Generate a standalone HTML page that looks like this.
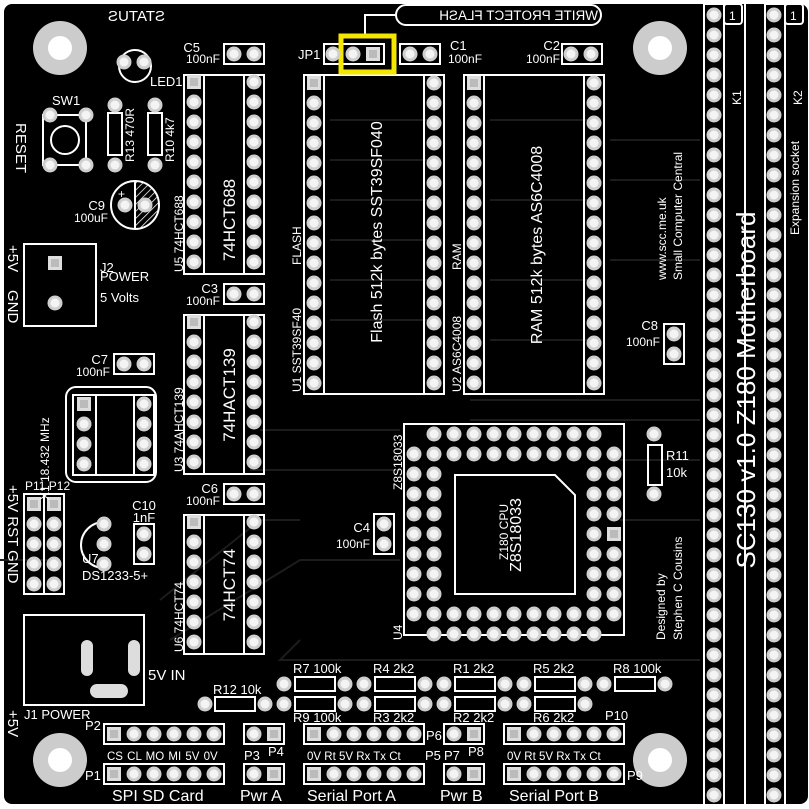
<!DOCTYPE html>
<html><head><meta charset="utf-8"><style>
html,body{margin:0;padding:0;background:#fff;}
svg{display:block;}
text{font-family:"Liberation Sans","DejaVu Sans",sans-serif;fill:#fff;}
</style></head><body>
<svg id="s" width="809" height="809" viewBox="0 0 809 809" xmlns="http://www.w3.org/2000/svg">
<defs><pattern id="h" width="5" height="5" patternUnits="userSpaceOnUse" patternTransform="rotate(45)"><line x1="0" y1="0" x2="0" y2="5" stroke="#fff" stroke-width="1.5"/></pattern></defs>
<rect x="4" y="4" width="804" height="800" rx="8" fill="#000"/>
<g stroke="#1c1c1c" stroke-width="2" fill="none">
<path d="M0 560 H60 M160 600 L260 520 H300 M260 430 H400 M250 470 H400 M170 640 L300 560 H400 M470 400 H700 M470 420 H700 M620 460 H700 M620 520 H700 M300 640 L280 660 H700 M330 120 H430 M330 160 H430 M330 200 H430 M330 240 H430 M330 280 H430 M330 320 H430 M490 120 H590 M490 200 H590 M490 280 H590 M490 340 H590 M610 140 H700 M610 180 H700 M610 260 H700"/>
</g>
<path d="M135 181 A24 24 0 0 1 135 229 Z" fill="url(#h)"/>
<g fill="none" stroke="#fff" stroke-width="2">
<rect x="184" y="75" width="80" height="199"/><line x1="204" y1="75" x2="204" y2="274"/><line x1="244" y1="75" x2="244" y2="274"/>
<rect x="184" y="315" width="80" height="159"/><line x1="204" y1="315" x2="204" y2="474"/><line x1="244" y1="315" x2="244" y2="474"/>
<rect x="184" y="515" width="80" height="139"/><line x1="204" y1="515" x2="204" y2="654"/><line x1="244" y1="515" x2="244" y2="654"/>
<rect x="304" y="75" width="140" height="319"/><line x1="324" y1="75" x2="324" y2="394"/><line x1="424" y1="75" x2="424" y2="394"/>
<rect x="464" y="75" width="140" height="319"/><line x1="484" y1="75" x2="484" y2="394"/><line x1="584" y1="75" x2="584" y2="394"/>
<rect x="404" y="424" width="220" height="211"/>
<path d="M455 475 H555 L575 495 V594 H455 Z"/>
<rect x="66" y="387" width="90" height="95" rx="10"/>
<rect x="73" y="395" width="81" height="80"/><line x1="96" y1="395" x2="96" y2="475"/><line x1="134" y1="395" x2="134" y2="475"/>
<rect x="704" y="4" width="20" height="802"/><rect x="724" y="4" width="18" height="20" rx="3"/>
<rect x="765" y="4" width="20" height="802"/><rect x="785" y="4" width="18" height="20" rx="3"/>
<line x1="745" y1="4" x2="745" y2="806"/>
<rect x="224" y="44" width="40" height="20"/><rect x="224" y="284" width="40" height="20"/><rect x="224" y="484" width="40" height="20"/>
<rect x="114" y="354" width="40" height="20"/><rect x="400" y="44" width="40" height="20"/><rect x="562" y="44" width="40" height="20"/>
<rect x="324" y="44" width="60" height="20"/>
<rect x="664" y="324" width="20" height="40"/><rect x="374" y="514" width="20" height="40"/><rect x="134" y="524" width="20" height="40"/>
<rect x="24" y="494" width="40" height="100"/><line x1="44" y1="494" x2="44" y2="594"/>
<rect x="24" y="244" width="72" height="82"/>
<rect x="24" y="615" width="120" height="90"/>
<rect x="43" y="115" width="43" height="50"/><circle cx="65" cy="140" r="14"/>
<rect x="108" y="113" width="14" height="42"/><rect x="148" y="113" width="14" height="42"/>
<circle cx="135" cy="205" r="24"/><line x1="135" y1="181" x2="135" y2="229"/>
<circle cx="135" cy="66" r="16"/>
<path d="M104 522 A22 22 0 1 0 104 568"/>
<rect x="648" y="445" width="14" height="40"/>
<rect x="295" y="677" width="40" height="14"/><rect x="375" y="677" width="40" height="14"/><rect x="455" y="677" width="40" height="14"/><rect x="535" y="677" width="40" height="14"/><rect x="615" y="677" width="40" height="14"/>
<rect x="295" y="697" width="40" height="14"/><rect x="375" y="697" width="40" height="14"/><rect x="455" y="697" width="40" height="14"/><rect x="535" y="697" width="40" height="14"/><rect x="215" y="697" width="40" height="14"/>
<rect x="104" y="724" width="120" height="20"/><rect x="104" y="764" width="120" height="20"/>
<rect x="244" y="724" width="40" height="20"/><rect x="244" y="764" width="40" height="20"/>
<rect x="304" y="724" width="120" height="20"/><rect x="304" y="764" width="120" height="20"/>
<rect x="444" y="724" width="40" height="20"/><rect x="444" y="764" width="40" height="20"/>
<rect x="504" y="724" width="120" height="20"/><rect x="504" y="764" width="120" height="20"/>
<rect x="396" y="5" width="205" height="20" rx="10"/>
<path d="M395 15 H365 V35"/>
</g>
<g fill="#ccc"><circle cx="60" cy="48" r="27"/><circle cx="660" cy="48" r="27"/><circle cx="60" cy="760" r="27"/><circle cx="660" cy="760" r="27"/></g>
<g fill="#fff"><circle cx="60" cy="48" r="12"/><circle cx="660" cy="48" r="12"/><circle cx="60" cy="760" r="12"/><circle cx="660" cy="760" r="12"/></g>
<g fill="#ddd"><rect x="81" y="640" width="12" height="36" rx="6"/><rect x="128" y="640" width="12" height="36" rx="6"/><rect x="90" y="684" width="38" height="14" rx="7"/></g>
<rect x="341" y="36" width="53" height="36" fill="none" stroke="#f5e600" stroke-width="5"/>
<g id="pads"></g>
<g font-size="13">
<text x="200" y="52" text-anchor="end">C5</text><text x="220" y="63" text-anchor="end" font-size="12">100nF</text>
<text x="298" y="59">JP1</text>
<text x="450" y="50">C1</text><text x="448" y="63" font-size="12">100nF</text>
<text x="560" y="50" text-anchor="end">C2</text><text x="560" y="63" text-anchor="end" font-size="12">100nF</text>
<text x="150" y="86">LED1</text><text x="52" y="105">SW1</text>
<text x="218" y="293" text-anchor="end">C3</text><text x="220" y="305" text-anchor="end" font-size="12">100nF</text>
<text x="218" y="493" text-anchor="end">C6</text><text x="220" y="505" text-anchor="end" font-size="12">100nF</text>
<text x="108" y="364" text-anchor="end">C7</text><text x="110" y="376" text-anchor="end" font-size="12">100nF</text>
<text x="658" y="330" text-anchor="end">C8</text><text x="660" y="346" text-anchor="end" font-size="12">100nF</text>
<text x="370" y="532" text-anchor="end">C4</text><text x="370" y="548" text-anchor="end" font-size="12">100nF</text>
<text x="144" y="510" text-anchor="middle">C10</text><text x="144" y="522" text-anchor="middle">1nF</text>
<text x="105" y="210" text-anchor="end">C9</text><text x="108" y="222" text-anchor="end" font-size="12">100uF</text>
<text x="118" y="198" font-size="12">+</text>
<text x="100" y="272">J2</text>
<text x="100" y="281">POWER</text><text x="100" y="302">5 Volts</text>
<text x="24" y="719">J1 POWER</text>
<text x="148" y="680" font-size="15">5V IN</text>
<text x="213" y="694">R12 10k</text>
<text x="293" y="673">R7 100k</text><text x="373" y="673">R4 2k2</text><text x="453" y="673">R1 2k2</text><text x="533" y="673">R5 2k2</text><text x="613" y="673">R8 100k</text>
<text x="293" y="722">R9 100k</text><text x="373" y="722">R3 2k2</text><text x="453" y="722">R2 2k2</text><text x="533" y="722">R6 2k2</text>
<text x="85" y="730">P2</text><text x="85" y="780">P1</text><text x="244" y="760">P3</text><text x="268" y="756">P4</text>
<text x="426" y="740">P6</text><text x="425" y="760">P5</text><text x="444" y="760">P7</text><text x="468" y="756">P8</text>
<text x="605" y="720">P10</text><text x="627" y="780">P9</text>
<text x="107" y="760" font-size="11.5" word-spacing="1">CS CL MO MI 5V 0V</text>
<text x="307" y="760" font-size="11.5">0V Rt 5V Rx Tx Ct</text>
<text x="507" y="760" font-size="11.5">0V Rt 5V Rx Tx Ct</text>
<text x="25" y="490" font-size="12">P11 P12</text>
<text x="82" y="563">U7</text><text x="82" y="580">DS1233-5+</text>
<text x="666" y="460">R11</text><text x="666" y="477">10k</text>
</g>
<g font-size="16">
<text x="112" y="801">SPI SD Card</text><text x="240" y="801">Pwr A</text><text x="307" y="801">Serial Port A</text><text x="440" y="801">Pwr B</text><text x="509" y="801">Serial Port B</text>
</g>
<g font-size="14">
<text transform="scale(-1,1)" x="-165" y="21" font-size="15">STATUS</text>
<text transform="scale(-1,1)" x="-598" y="20" font-size="13.5">WRITE PROTECT FLASH</text>
<text transform="translate(16,148) rotate(90)" text-anchor="middle" font-size="15">RESET</text>
<text transform="translate(8,245) rotate(90)" font-size="15">+5V</text>
<text transform="translate(8,290) rotate(90)" font-size="15">GND</text>
<text transform="translate(8,485) rotate(90)" font-size="15">+5V RST GND</text>
<text transform="translate(8,710) rotate(90)" font-size="15">+5V</text>
</g>
<g font-size="12">
<text transform="translate(134,162) rotate(-90)">R13 470R</text>
<text transform="translate(174,162) rotate(-90)">R10 4k7</text>
<text transform="translate(183,272) rotate(-90)">U5 74HCT688</text>
<text transform="translate(183,472) rotate(-90)">U3 74AHCT139</text>
<text transform="translate(183,652) rotate(-90)">U6 74HCT74</text>
<text transform="translate(301,392) rotate(-90)">U1 SST39SF40</text>
<text transform="translate(301,265) rotate(-90)">FLASH</text>
<text transform="translate(461,392) rotate(-90)">U2 AS6C4008</text>
<text transform="translate(461,270) rotate(-90)">RAM</text>
<text transform="translate(402,490) rotate(-90)">Z8S18033</text>
<text transform="translate(402,640) rotate(-90)">U4</text>
<text transform="translate(49,500) rotate(-90)">X1 18.432 MHz</text>
<text transform="translate(508,560) rotate(-90)">Z180 CPU</text>
<text transform="translate(666,280) rotate(-90)">www.scc.me.uk</text>
<text transform="translate(682,280) rotate(-90)">Small Computer Central</text>
<text transform="translate(665,640) rotate(-90)">Designed by</text>
<text transform="translate(682,640) rotate(-90)">Stephen C Cousins</text>
<text transform="translate(799,235) rotate(-90)">Expansion socket</text>
<text transform="translate(741,105) rotate(-90)">K1</text>
<text transform="translate(802,105) rotate(-90)">K2</text>
<text x="729" y="20" font-size="12">1</text><text x="790" y="20" font-size="12">1</text>
</g>
<g font-size="17">
<text transform="translate(235,220) rotate(-90)" text-anchor="middle">74HCT688</text>
<text transform="translate(235,395) rotate(-90)" text-anchor="middle">74HACT139</text>
<text transform="translate(235,585) rotate(-90)" text-anchor="middle">74HCT74</text>
<text transform="translate(382,232) rotate(-90)" text-anchor="middle" font-size="16">Flash 512k bytes SST39SF040</text>
<text transform="translate(542,245) rotate(-90)" text-anchor="middle" font-size="16">RAM 512k bytes AS6C4008</text>
<text transform="translate(521,535) rotate(-90)" text-anchor="middle" font-size="16">Z8S18033</text>
</g>
<text transform="translate(755,390) rotate(-90)" text-anchor="middle" font-size="26">SC130 v1.0 Z180 Motherboard</text>
</svg>
<script>
var g=document.getElementById('pads'),N='http://www.w3.org/2000/svg';
function p(x,y,sq){var e;
 if(sq){e=document.createElementNS(N,'rect');e.setAttribute('x',x-7);e.setAttribute('y',y-7);e.setAttribute('width',14);e.setAttribute('height',14);e.setAttribute('fill','#ddd');g.appendChild(e);
  e=document.createElementNS(N,'rect');e.setAttribute('x',x-4);e.setAttribute('y',y-4);e.setAttribute('width',8);e.setAttribute('height',8);e.setAttribute('fill','#bbb');g.appendChild(e);}
 else{e=document.createElementNS(N,'circle');e.setAttribute('cx',x);e.setAttribute('cy',y);e.setAttribute('r',7.5);e.setAttribute('fill','#cfcfcf');g.appendChild(e);
  e=document.createElementNS(N,'circle');e.setAttribute('cx',x);e.setAttribute('cy',y);e.setAttribute('r',4.5);e.setAttribute('fill','#f4f4f4');g.appendChild(e);}}
function col(x,y0,n,sq){for(var i=0;i<n;i++)p(x,y0+20*i,sq&&i==0);}
function row(x0,y,n,sqi){for(var i=0;i<n;i++)p(x0+20*i,y,i===sqi);}
col(194,82,10,1);col(254,82,10);
col(194,322,8,1);col(254,322,8);
col(194,522,7,1);col(254,522,7);
col(314,83,16,1);col(434,83,16);
col(474,83,16,1);col(594,83,16);
for(var i=0;i<40;i++){p(714,15+20*i);p(774,15+20*i);}
row(434,434,9);row(414,454,11);row(414,614,11);row(434,634,9);
for(var y=474;y<=594;y+=20){p(414,y);p(434,y);p(594,y);p(614,y,y==534);}
col(84,404,4,1);col(144,404,4);
col(34,504,5,1);col(54,504,5,1);
col(104,524,3);col(144,534,2);
row(234,54,2);row(234,294,2);row(234,494,2);row(124,364,2);
row(333,54,3,2);row(410,54,2);row(571,54,2);
col(674,334,2);col(384,524,2);
p(124,62);p(144,62);p(50,115);p(86,115);p(50,165);p(86,165);
p(115,105);p(115,165);p(155,105);p(155,165);p(125,205);p(145,205);
p(55,263,1);p(55,303);p(654,434);p(654,494);
[284,364,444,524,604].forEach(function(x){p(x,684);p(x+61,684);});
[284,364,444,524].forEach(function(x){p(x,704);p(x+61,704);});
p(205,704);p(265,704);
row(114,734,6,0);row(114,774,6,0);row(254,734,2,1);row(254,774,2,1);
row(314,734,6,0);row(314,774,6,0);row(454,734,2,1);row(454,774,2,1);
row(514,734,6,0);row(514,774,6,0);
</script>
</body></html>
